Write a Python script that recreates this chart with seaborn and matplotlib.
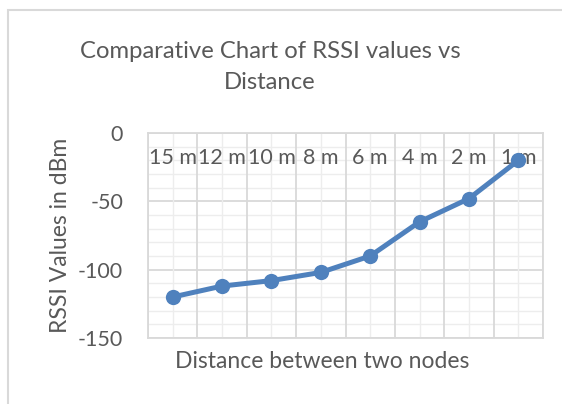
import matplotlib
matplotlib.use("Agg")
import matplotlib.pyplot as plt
from matplotlib.patches import Rectangle
import seaborn as sns

distances = ["15 m", "12 m", "10 m", "8 m", "6 m", "4 m", "2 m", "1 m"]
rssi = [-120, -112, -108, -102, -90, -65, -48, -20]
y_ticks = [0, -50, -100, -150]

sns.set_theme(style="white")
plt.rcParams['font.family'] = ['Lato', 'DejaVu Sans']
plt.rcParams['axes.unicode_minus'] = False
text_col = "#595959"
major_col = "#D9D9D9"
minor_col = "#EDEDED"

fig = plt.figure(figsize=(5.62, 4.04), dpi=100)
ax = fig.add_axes([148 / 562, 1 - 338 / 404, 395 / 562, 205 / 404])

sns.lineplot(x=distances, y=rssi, sort=False, marker="o", color="#4F81BD",
             linewidth=3.6, markersize=11, markeredgewidth=0, ax=ax, zorder=5)

ax.set_ylim(-150, 0)
ax.set_xlim(-0.5, len(distances) - 0.5)
ax.set_yticks(y_ticks)
ax.set_xticks(range(len(distances)))
ax.set_xticklabels(distances)

# grid: major at y ticks and category boundaries, minor lighter
ax.grid(False)
ax.set_axisbelow(False)
for v in range(-150, 1, 10):
    ax.axhline(v, color=major_col if v % 50 == 0 else minor_col,
               lw=1.3 if v % 50 == 0 else 1.0, zorder=0.3)
for i in range(len(distances) + 1):
    ax.axvline(i - 0.5, color=major_col, lw=1.3, zorder=0.3)
    if i < len(distances):
        ax.axvline(i, color=minor_col, lw=1.0, zorder=0.3)

for s in ax.spines.values():
    s.set_color(major_col)
    s.set_linewidth(1.3)

ax.tick_params(axis="y", which="both", length=0, pad=18, labelsize=15.5, labelcolor=text_col)
ax.tick_params(axis="x", which="both", length=0, bottom=False, top=False,
               labelbottom=False, labeltop=True, pad=-25, labelsize=15.5,
               labelcolor=text_col)

ax.set_xlabel("")
ax.set_ylabel("RSSI Values in dBm", fontsize=16.5, color=text_col, labelpad=5)
fig.text(322 / 562, 1 - 362 / 404, "Distance between two nodes", ha="center",
         va="center", fontsize=16.5, color=text_col)
fig.text(270 / 562, 1 - 67 / 404, "Comparative Chart of RSSI values vs\nDistance",
         ha="center", va="center", fontsize=17.2, color=text_col, linespacing=1.6)

fig.patches.append(Rectangle((8 / 562, -0.1), 1.2, 1.1 - 10 / 404,
                             transform=fig.transFigure, fill=False,
                             edgecolor=major_col, lw=1.5))

fig.savefig("out.png", dpi=100)
